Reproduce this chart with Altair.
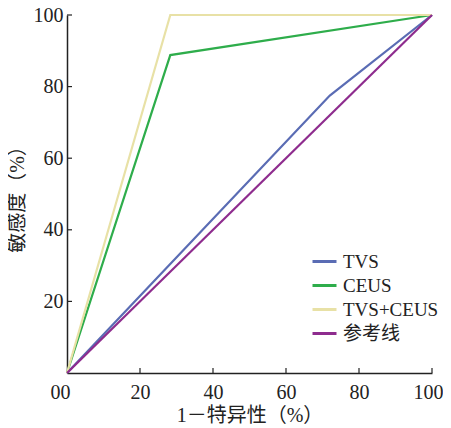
import altair as alt
import pandas as pd

series = ["TVS", "CEUS", "TVS+CEUS", "参考线"]
colors = ["#5a6cb4", "#2ead4b", "#e8e1a6", "#8e2c8e"]
tvs_x = [0, 72, 100]
tvs_y = [0, 77.5, 100]
ceus_x = [0, 28.3, 100]
ceus_y = [0, 88.8, 100]
comb_x = [0, 28.3, 100]
comb_y = [0, 100, 100]
ref_x = [0, 100]
ref_y = [0, 100]
x_ticks = [0, 20, 40, 60, 80, 100]
y_ticks = [20, 40, 60, 80, 100]

rows = []
for name, xs, ys in [("TVS", tvs_x, tvs_y), ("CEUS", ceus_x, ceus_y),
                     ("TVS+CEUS", comb_x, comb_y), ("参考线", ref_x, ref_y)]:
    for i, (a, b) in enumerate(zip(xs, ys)):
        rows.append({"series": name, "x": a, "y": b, "o": i})
df = pd.DataFrame(rows)

FONT = "Liberation Serif, Noto Sans CJK SC"

xscale = alt.Scale(domain=[0, 100], nice=False, zero=False)
yscale = alt.Scale(domain=[0, 100], nice=False, zero=False)

lines = alt.Chart(df).mark_line(strokeWidth=2.2, clip=False).encode(
    x=alt.X("x:Q", scale=xscale, title="1－特异性（%）",
            axis=alt.Axis(values=x_ticks, grid=False, tickSize=0, labelPadding=9,
                          labelFlush=False,
                          labelOffset={"condition": [
                              {"test": "datum.value == 0", "value": -7},
                              {"test": "datum.value == 100", "value": -4}],
                                       "value": 0},
                          labelExpr="datum.value == 0 ? '00' : datum.label",
                          labelFontSize=20, titleFontSize=20, titlePadding=3,
                          domainColor="#222", domainWidth=1.5,
                          labelColor="#222", titleColor="#222",
                          labelFont=FONT, titleFont=FONT, titleFontWeight="normal")),
    y=alt.Y("y:Q", scale=yscale, title="敏感度（%）",
            axis=alt.Axis(values=y_ticks, grid=False, tickSize=0, labelPadding=4,
                          labelFontSize=20, titleFontSize=20, titlePadding=6,
                          domainColor="#222", domainWidth=1.5,
                          labelColor="#222", titleColor="#222",
                          labelFont=FONT, titleFont=FONT, titleFontWeight="normal")),
    color=alt.Color("series:N", scale=alt.Scale(domain=series, range=colors),
                    legend=alt.Legend(title=None, orient="none", legendX=244, legendY=233,
                                      symbolType="stroke", symbolSize=576,
                                      symbolStrokeWidth=3, labelFontSize=19,
                                      labelFont=FONT, labelColor="#222",
                                      rowPadding=-4, labelOffset=5, padding=0)),
    order="o:O",
)

xt = pd.DataFrame({"v": x_ticks[1:]})
yt = pd.DataFrame({"v": y_ticks})
xticks = alt.Chart(xt).mark_rule(color="#222", strokeWidth=1.2).encode(
    x=alt.X("v:Q", scale=xscale), y=alt.value(358), y2=alt.value(353))
yticks = alt.Chart(yt).mark_rule(color="#222", strokeWidth=1.2).encode(
    y=alt.Y("v:Q", scale=yscale), x=alt.value(0), x2=alt.value(5))

chart = alt.layer(lines, xticks, yticks).properties(
    width=365, height=358,
    autosize=alt.AutoSizeParams(type="none"),
    padding={"left": 59, "top": 7, "right": 11, "bottom": 55},
).configure_view(stroke=None)

chart.save("out.html", embed_options={"renderer": "svg", "actions": False})
